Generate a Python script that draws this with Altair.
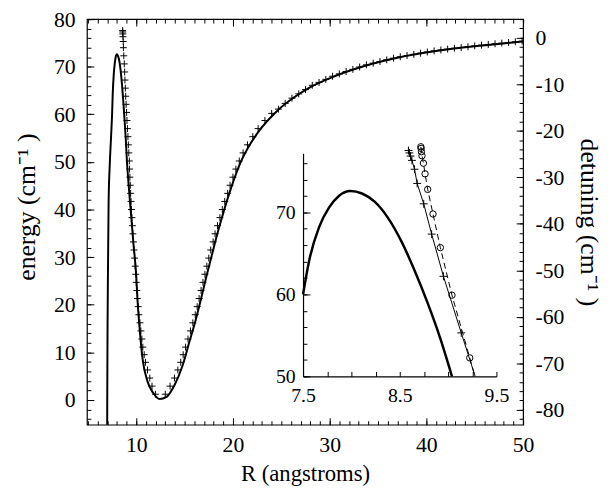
import altair as alt
import pandas as pd

# ---------------- data ----------------
# main potential curve (solid)
pot_R = [6.97, 7.00, 7.03, 7.08, 7.14, 7.25, 7.40, 7.50, 7.565, 7.666, 7.77, 7.87, 7.99,
         8.11, 8.24, 8.38, 8.52, 8.65, 8.79, 8.92, 9.04, 9.20, 9.40, 9.70, 10.00, 10.13,
         10.38, 10.65, 11.16, 11.74, 12.42, 13.10, 13.95, 14.80, 15.48, 16.16, 16.67,
         17.20, 17.80, 18.40, 19.00, 19.80, 20.70, 21.80, 23.00, 24.40, 26.00, 28.00,
         30.50, 33.50, 37.00, 41.00, 45.50, 50.00]
pot_E = [-20, 0, 15, 28, 41.5, 49, 55.5, 60, 64.2, 68.2, 70.6, 72.0, 72.6,
         72.3, 71.3, 69.3, 66.4, 63.0, 58.9, 54.6, 50.0, 45.5, 40.5, 33.0, 26.0, 21.0,
         14.2, 8.7, 3.9, 1.5, 0.2, 0.6, 3.1, 7.3, 12.1, 16.9, 21.0,
         25.5, 30.3, 35.0, 39.3, 44.5, 49.5, 53.8, 57.3, 60.4, 63.1, 65.7,
         68.0, 70.1, 71.9, 73.3, 74.4, 75.3]

# main "+" points, inner branch
plusL_R = [11.98, 11.63, 11.40, 11.16, 10.95, 10.82, 10.68, 10.58, 10.48, 10.38, 10.27, 10.20,
           10.12, 10.06, 10.00, 9.95, 9.89, 9.83, 9.77, 9.71, 9.65, 9.60, 9.55, 9.50, 9.46,
           9.42, 9.38, 9.34, 9.31, 9.28, 9.23, 9.18, 9.14, 9.09, 9.04, 9.00, 8.95, 8.91,
           8.87, 8.83, 8.80, 8.76, 8.71, 8.67, 8.65, 8.63, 8.61, 8.60, 8.59]
plusL_E = [1.2, 2.9, 4.6, 6.3, 7.9, 9.5, 11.1, 12.8, 14.5, 16.2, 17.9, 19.6,
           21.3, 23.0, 24.7, 26.4, 28.1, 29.8, 31.5, 33.2, 34.9, 36.6, 38.3, 40.0, 41.7,
           43.4, 45.1, 46.8, 48.5, 50.2, 51.9, 53.6, 55.3, 57.0, 58.7, 60.4, 62.1, 63.8,
           65.5, 67.2, 68.9, 70.6, 72.3, 74.0, 75.3, 76.3, 76.9, 77.3, 77.6]
# main "+" points, outer branch
plusR_R = [13.00, 13.50, 13.95, 14.30, 14.60, 14.85, 15.10, 15.35, 15.60, 15.85, 16.10, 16.30,
           16.50, 16.70, 16.90, 17.10, 17.30, 17.50, 17.70, 17.95, 18.15, 18.40, 18.65, 18.90,
           19.15, 19.45, 19.70, 20.00, 20.30, 20.65, 21.05, 21.50, 22.05, 22.60, 23.30, 24.00,
           24.7, 25.4, 26.1, 26.8, 27.5, 28.2, 28.9, 29.6, 30.3, 31.0, 31.7, 32.4, 33.1,
           33.8, 34.5, 35.2, 35.9, 36.6, 37.3, 38.0, 38.7, 39.4, 40.1, 40.8, 41.5, 42.2,
           42.9, 43.6, 44.3, 45.0, 45.7, 46.4, 47.1, 47.8, 48.5, 49.2, 49.9]
plusR_E = [1.2, 2.9, 4.6, 6.3, 7.9, 9.5, 11.1, 12.8, 14.5, 16.2, 17.9, 19.6,
           21.3, 23.0, 24.7, 26.4, 28.1, 29.8, 31.5, 33.2, 34.9, 36.6, 38.3, 40.0,
           41.7, 43.4, 45.1, 46.8, 48.5, 50.2, 51.9, 53.6, 55.3, 57.0, 58.7, 60.2,
           61.1, 62.3, 63.4, 64.3, 65.2, 66.1, 66.7, 67.35, 68.0, 68.5, 69.0, 69.45, 69.95,
           70.4, 70.75, 71.1, 71.45, 71.8, 72.1, 72.35, 72.6, 72.85, 73.1, 73.33, 73.52, 73.7,
           73.87, 74.03, 74.2, 74.38, 74.54, 74.68, 74.82, 74.96, 75.1, 75.24, 75.38]

# inset series
ins_plus_R = [8.590, 8.600, 8.612, 8.626, 8.653, 8.680, 8.748, 8.830, 8.952, 9.136]
ins_plus_E = [77.55, 77.25, 76.87, 76.34, 75.26, 73.53, 71.04, 67.35, 62.20, 55.30]
ins_plus_line_end = [9.280, 50.0]
ins_circ_R = [8.718, 8.721, 8.724, 8.730, 8.745, 8.762, 8.789, 8.844, 8.920, 9.040, 9.224]
ins_circ_E = [78.0, 77.8, 77.4, 76.9, 76.0, 74.7, 72.8, 69.8, 65.7, 59.9, 52.25]
ins_circ_line_end = [9.278, 50.0]

# axis ticks
x_major = [10, 20, 30, 40, 50]
x_minor = list(range(5, 51))
e_major = [0, 10, 20, 30, 40, 50, 60, 70, 80]
e_minor = list(range(-4, 81, 2))
d_major = [-80, -70, -60, -50, -40, -30, -20, -10, 0]
d_minor = list(range(-82, 5, 2))
ix_major = [7.5, 8.5, 9.5]
ix_ticks = [7.5, 7.75, 8.0, 8.25, 8.5, 8.75, 9.0, 9.25, 9.5]
iy_major = [50, 60, 70]
iy_minor = list(range(50, 78, 2))

# ---------------- chart ----------------
FONT = "Liberation Serif"
W, H = 442, 411
XD, ED, DD = [4.9, 50], [-5.2, 80], [-83.2, 4.0]
IXD, IYD = [7.5, 9.5], [50, 77.2]
IXR, IYR = [219, 415], [362, 136]
IN_X_OFF = H - IYR[0]      # inset x-axis distance from plot bottom
IN_Y_OFF = IXR[0]          # inset y-axis distance from plot left
PLUS = "M-1,0L1,0M0,-1L0,1"
LBL = "datum.value + ''"


def tick_axis(orient, values, size, base=0):
    return alt.Axis(orient=orient, values=values, tickSize=size, offset=-(base + size),
                    labels=False, domain=False, grid=False, title=None, ticks=True,
                    tickColor="black", tickWidth=1)


def label_axis(orient, values, size, title, pad, tfs=23, tpad=6, **kw):
    return alt.Axis(orient=orient, values=values, tickSize=size, offset=-size,
                    labels=True, domain=False, grid=False, title=title, ticks=True,
                    tickColor="black", tickWidth=1, labelFont=FONT, labelFontSize=22,
                    labelColor="black", labelPadding=pad, labelFlush=False,
                    labelOverlap=False, labelExpr=LBL, titleFont=FONT, titleFontSize=tfs,
                    titleFontWeight="normal", titleColor="black", titlePadding=tpad, **kw)


xs = alt.Scale(domain=XD, nice=False, zero=False)
ys_e = alt.Scale(domain=ED, nice=False, zero=False)
ys_d = alt.Scale(domain=DD, nice=False, zero=False)
xs_in = alt.Scale(domain=IXD, range=IXR, nice=False, zero=False)
ys_in = alt.Scale(domain=IYD, range=IYR, nice=False, zero=False)

pot = pd.DataFrame({"R": pot_R, "E": pot_E})
plus_main = pd.DataFrame({"R": plusL_R + plusR_R, "E": plusL_E + plusR_E})
det = pd.DataFrame({"R": [XD[0], XD[1]], "D": [d_major[0], d_major[-1]]})
ins_plus = pd.DataFrame({"R": ins_plus_R, "E": ins_plus_E})
ins_plus_line = pd.DataFrame({"R": ins_plus_R + [ins_plus_line_end[0]],
                              "E": ins_plus_E + [ins_plus_line_end[1]]})
ins_circ = pd.DataFrame({"R": ins_circ_R, "E": ins_circ_E})
ins_circ_line = pd.DataFrame({"R": ins_circ_R + [ins_circ_line_end[0]],
                              "E": ins_circ_E + [ins_circ_line_end[1]]})

main_curve = alt.Chart(pot).mark_line(
    color="black", strokeWidth=2, clip=True, interpolate="monotone"
).encode(
    x=alt.X("R:Q", scale=xs, axis=label_axis("bottom", x_major, 7, "R (angstroms)", 10, tfs=23, tpad=8)),
    y=alt.Y("E:Q", scale=ys_e, axis=label_axis("left", e_major, 7, "energy (cm⁻¹ )", 12, tfs=26, tpad=14, titleY=190)),
)
main_plus = alt.Chart(plus_main).mark_point(
    shape=PLUS, filled=False, color="black", size=49, strokeWidth=1, opacity=1, clip=True
).encode(
    x=alt.X("R:Q", scale=xs, axis=tick_axis("bottom", x_minor, 4)),
    y=alt.Y("E:Q", scale=ys_e, axis=tick_axis("left", e_minor, 4)),
)
det_a = alt.Chart(det).mark_point(opacity=0).encode(
    x=alt.X("R:Q", scale=xs, axis=tick_axis("top", x_major, 7)),
    y=alt.Y("D:Q", scale=ys_d, axis=label_axis("right", d_major, 7, "detuning (cm⁻¹ )", 12, tfs=26, tpad=12)),
)
det_b = alt.Chart(det).mark_point(opacity=0).encode(
    x=alt.X("R:Q", scale=xs, axis=tick_axis("top", x_minor, 4)),
    y=alt.Y("D:Q", scale=ys_d, axis=tick_axis("right", d_minor, 4)),
)

in_x_lab = alt.Axis(orient="bottom", values=ix_major, offset=-IN_X_OFF, ticks=False,
                    domain=True, domainColor="black", domainWidth=1.2, grid=False,
                    title=None, labelFont=FONT, labelFontSize=20, labelColor="black",
                    labelPadding=10, labelFlush=False, labelOverlap=False, labelExpr=LBL)
in_y_lab = alt.Axis(orient="left", values=iy_major, offset=-IN_Y_OFF, ticks=False,
                    domain=True, domainColor="black", domainWidth=1.2, grid=False,
                    title=None, labelFont=FONT, labelFontSize=20, labelColor="black",
                    labelPadding=8, labelOverlap=False, labelExpr=LBL)

in_curve = alt.Chart(pot).transform_filter(
    "datum.R >= 7.5 && datum.R <= 9.05"
).mark_line(color="black", strokeWidth=2.5, interpolate="monotone").encode(
    x=alt.X("R:Q", scale=xs_in, axis=in_x_lab),
    y=alt.Y("E:Q", scale=ys_in, axis=in_y_lab),
)
in_plus_line = alt.Chart(ins_plus_line).mark_line(color="black", strokeWidth=1).encode(
    x=alt.X("R:Q", scale=xs_in, axis=tick_axis("bottom", ix_ticks, 5, IN_X_OFF)),
    y=alt.Y("E:Q", scale=ys_in, axis=tick_axis("left", iy_major, 7, IN_Y_OFF)),
)
in_plus_pts = alt.Chart(ins_plus).mark_point(
    shape=PLUS, filled=False, color="black", size=64, strokeWidth=1, opacity=1
).encode(
    x=alt.X("R:Q", scale=xs_in, axis=None),
    y=alt.Y("E:Q", scale=ys_in, axis=tick_axis("left", iy_minor, 4, IN_Y_OFF)),
)
in_circ_line = alt.Chart(ins_circ_line).mark_line(
    color="black", strokeWidth=1, strokeDash=[6, 4]
).encode(
    x=alt.X("R:Q", scale=xs_in, axis=None),
    y=alt.Y("E:Q", scale=ys_in, axis=None),
)
in_circ_pts = alt.Chart(ins_circ).mark_point(
    shape="circle", filled=False, color="black", size=42, strokeWidth=1, opacity=1
).encode(
    x=alt.X("R:Q", scale=xs_in, axis=None),
    y=alt.Y("E:Q", scale=ys_in, axis=None),
)

chart = alt.layer(
    main_curve, main_plus, det_a, det_b,
    in_curve, in_plus_line, in_plus_pts, in_circ_line, in_circ_pts,
).resolve_scale(
    x="independent", y="independent"
).properties(
    width=W, height=H,
    padding={"left": 80, "top": 8, "right": 82, "bottom": 70},
    autosize=alt.AutoSizeParams(type="none"),
    background="white",
).configure_view(
    stroke="black", strokeWidth=1.2
)

chart.save("out.html", embed_options={"renderer": "svg", "actions": False})
